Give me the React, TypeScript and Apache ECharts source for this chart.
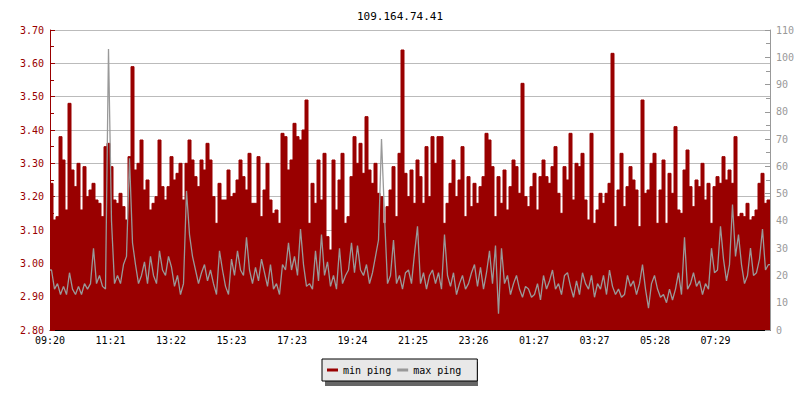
import React, { useEffect, useRef } from "react";
import * as echarts from "echarts";

const titleText = "109.164.74.41";
const xLabels = ["09:20", "11:21", "13:22", "15:23", "17:23", "19:24", "21:25", "23:26", "01:27", "03:27", "05:28", "07:29"];
const labelStepMin = 121;
const sampleStepMin = 6;
const spanMin = 1440;

// min ping (ms), left axis
const minPing = [
  3.24,3.13,3.14,3.38,3.31,3.16,3.48,3.28,3.23,3.30, 3.16,3.29,3.20,3.22,3.24,3.19,3.18,3.14,3.35,3.36,
  3.29,3.19,3.18,3.21,3.17,3.13,3.32,3.59,3.28,3.30, 3.37,3.22,3.25,3.16,3.18,3.20,3.37,3.23,3.19,3.23,
  3.32,3.25,3.27,3.30,3.19,3.30,3.37,3.31,3.26,3.23, 3.31,3.28,3.36,3.31,3.20,3.12,3.24,3.19,3.19,3.28,
  3.20,3.21,3.25,3.31,3.26,3.22,3.33,3.18,3.18,3.32, 3.14,3.22,3.30,3.19,3.15,3.16,3.12,3.39,3.38,3.28,
  3.31,3.42,3.38,3.37,3.40,3.49,3.12,3.24,3.18,3.31, 3.19,3.33,3.08,3.04,3.31,3.16,3.25,3.33,3.12,3.14,
  3.26,3.38,3.30,3.36,3.27,3.44,3.28,3.24,3.30,3.21, 3.20,3.12,3.17,3.22,3.29,3.14,3.33,3.64,3.27,3.20,
  3.28,3.18,3.31,3.26,3.18,3.35,3.20,3.38,3.30,3.38, 3.38,3.12,3.18,3.24,3.31,3.20,3.25,3.35,3.14,3.26,
  3.17,3.24,3.18,3.23,3.26,3.39,3.37,3.29,3.14,3.26, 3.18,3.28,3.16,3.23,3.31,3.29,3.21,3.54,3.20,3.17,
  3.23,3.27,3.16,3.26,3.31,3.26,3.24,3.29,3.35,3.21, 3.15,3.29,3.25,3.39,3.19,3.30,3.29,3.33,3.19,3.13,
  3.39,3.12,3.16,3.21,3.18,3.21,3.24,3.63,3.11,3.22, 3.33,3.17,3.23,3.29,3.25,3.22,3.11,3.49,3.21,3.22,
  3.30,3.33,3.12,3.22,3.31,3.12,3.27,3.21,3.41,3.16, 3.15,3.28,3.34,3.23,3.17,3.25,3.23,3.30,3.19,3.24,
  3.12,3.23,3.26,3.24,3.32,3.25,3.28,3.24,3.38,3.14, 3.15,3.14,3.18,3.13,3.14,3.16,3.24,3.27,3.18,3.19,
];

// max ping (ms), right axis
const maxPing = [
  22,15,17,13,16,13,21,15,13,16, 13,17,15,17,30,17,20,16,15,103,
  40,17,20,17,24,27,63,32,24,17, 20,25,17,27,20,17,29,22,20,27,
  23,16,20,13,17,51,35,27,22,17, 21,24,18,22,17,13,29,22,16,13,
  26,20,29,22,20,34,22,17,23,18, 26,21,16,24,15,17,13,24,22,32,
  22,27,20,37,24,16,17,15,29,18, 35,20,25,16,20,15,30,17,20,22,
  32,21,31,22,20,24,17,21,27,33, 70,42,17,20,33,17,20,15,21,22,
  17,28,38,17,21,15,20,22,17,21, 15,35,20,16,21,13,17,20,15,17,
  21,24,16,23,15,21,29,17,31,6, 30,17,20,13,17,20,15,12,16,15,
  12,13,17,11,20,15,18,22,15,17, 13,20,21,16,12,18,13,21,17,15,
  20,12,17,15,20,13,22,16,13,15, 12,13,20,16,18,13,17,24,15,8,
  17,20,15,12,13,10,15,11,15,21, 13,34,15,17,21,16,18,13,17,15,
  30,21,22,38,26,18,24,46,27,35, 24,17,20,30,20,21,26,37,22,24,
];

const RED = "#990000";
const GRAY = "#999999";
const FONT = "DejaVu Sans Mono";

function stepSeries(vals: number[]) {
  const pts = vals.map((v, i) => [i * sampleStepMin, v]);
  pts.push([spanMin, vals[vals.length - 1]]);
  return pts;
}

function lineSeries(vals: number[]) {
  const pts = vals.map((v, i) => [i * sampleStepMin + sampleStepMin / 2, v]);
  pts.unshift([0, vals[0]]);
  pts.push([spanMin, vals[vals.length - 1]]);
  return pts;
}

export default function App() {
  const ref = useRef<HTMLDivElement>(null);
  useEffect(() => {
    if (!ref.current) return;
    const chart = echarts.init(ref.current, null, { renderer: "svg" });
    const tickVals = xLabels.map((_, i) => i * labelStepMin);
    chart.setOption({
      animation: false,
      backgroundColor: "#ffffff",
      title: {
        text: titleText,
        left: "center",
        top: 6,
        textStyle: { fontFamily: FONT, fontSize: 11, fontWeight: "normal", color: "#000" },
      },
      grid: { left: 50, right: 30, top: 30, bottom: 70 },
      xAxis: {
        type: "value",
        min: 0,
        max: spanMin,
        axisLine: { lineStyle: { color: "#000", width: 1 } },
        axisTick: { inside: true, length: 5, lineStyle: { color: "#000" }, customValues: tickVals },
        axisLabel: {
          customValues: tickVals,
          margin: 5,
          color: "#000",
          fontFamily: FONT,
          fontSize: 10,
          formatter: (v: number) => xLabels[Math.round(v / labelStepMin)] ?? "",
        },
        splitLine: { show: false },
      },
      yAxis: [
        {
          type: "value",
          min: 2.8,
          max: 3.7,
          interval: 0.1,
          axisLine: { show: true, lineStyle: { color: RED } },
          axisTick: { show: true, inside: true, length: 5, lineStyle: { color: RED } },
          minorTick: { show: true, splitNumber: 2, length: 4, lineStyle: { color: RED } },
          axisLabel: {
            margin: 6,
            color: RED,
            fontFamily: FONT,
            fontSize: 10,
            formatter: (v: number) => v.toFixed(2),
          },
          splitLine: { show: true, lineStyle: { color: "#bbbbbb", width: 1 } },
        },
        {
          type: "value",
          min: 0,
          max: 110,
          interval: 10,
          position: "right",
          axisLine: { show: true, lineStyle: { color: GRAY } },
          axisTick: { show: true, inside: true, length: 5, lineStyle: { color: GRAY } },
          minorTick: { show: true, splitNumber: 2, length: 4, lineStyle: { color: GRAY } },
          axisLabel: { margin: 6, color: GRAY, fontFamily: FONT, fontSize: 10 },
          splitLine: { show: false },
        },
      ],
      legend: {
        left: 322,
        top: 359,
        orient: "horizontal",
        padding: [6, 16, 6, 5],
        itemWidth: 11,
        itemHeight: 3,
        itemGap: 6,
        icon: "rect",
        backgroundColor: "#e8e8e8",
        borderColor: "#000",
        borderWidth: 1,
        z: 10,
        textStyle: { fontFamily: FONT, fontSize: 10, color: "#000" },
        data: [
          { name: "min ping", itemStyle: { color: RED } },
          { name: "max ping", itemStyle: { color: GRAY } },
        ],
      },
      graphic: [
        {
          type: "rect",
          left: 325,
          top: 362,
          z: 1,
          shape: { width: 153, height: 24 },
          style: { fill: "#666666" },
        },
      ],
      series: [
        {
          name: "min ping",
          type: "line",
          yAxisIndex: 0,
          step: "end",
          symbol: "none",
          data: stepSeries(minPing),
          lineStyle: { color: RED, width: 1 },
          itemStyle: { color: RED },
          areaStyle: { color: RED, opacity: 1, origin: "start" },
          z: 2,
        },
        {
          name: "max ping",
          type: "line",
          yAxisIndex: 1,
          symbol: "none",
          data: lineSeries(maxPing),
          lineStyle: { color: GRAY, width: 1.3 },
          itemStyle: { color: GRAY },
          z: 3,
        },
      ],
    });
    return () => chart.dispose();
  }, []);
  return (
    <div
      ref={ref}
      style={{ position: "fixed", left: 0, top: 0, width: 800, height: 400 }}
    />
  );
}
